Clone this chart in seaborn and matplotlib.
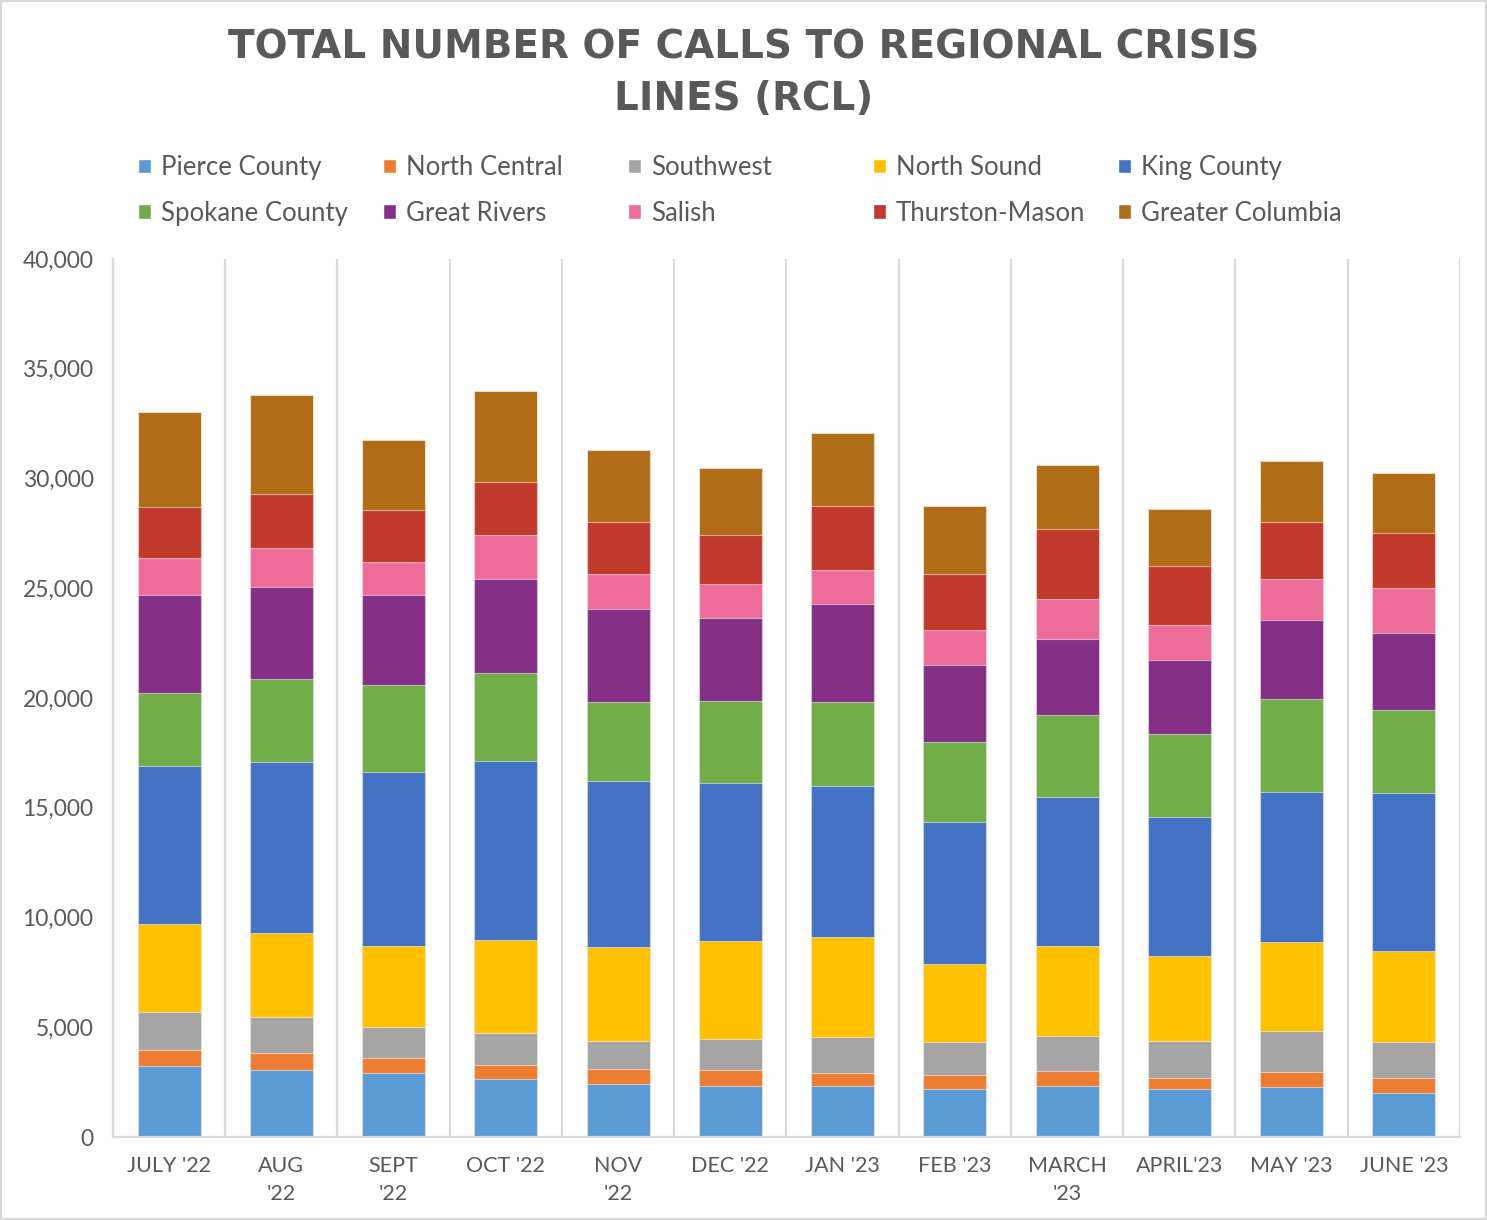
import pandas as pd
import numpy as np
import seaborn as sns
import matplotlib.pyplot as plt
from matplotlib.patches import Patch, Rectangle

# Monthly call counts per region
months = ["JULY '22", "AUG\n'22", "SEPT\n'22", "OCT '22", "NOV\n'22", "DEC '22",
          "JAN '23", "FEB '23", "MARCH\n'23", "APRIL'23", "MAY '23", "JUNE '23"]

pierce_county = [3250, 3070, 2900, 2660, 2430, 2340, 2340, 2190, 2340, 2170, 2280, 2020]
north_central = [700, 770, 690, 610, 670, 710, 590, 620, 670, 530, 700, 650]
southwest = [1730, 1640, 1440, 1490, 1260, 1430, 1610, 1530, 1580, 1660, 1850, 1670]
north_sound = [4040, 3800, 3690, 4210, 4310, 4450, 4560, 3530, 4100, 3870, 4070, 4120]
king_county = [7200, 7820, 7930, 8140, 7550, 7180, 6910, 6500, 6820, 6360, 6830, 7200]
spokane_county = [3310, 3750, 3960, 4030, 3580, 3740, 3800, 3630, 3730, 3770, 4220, 3790]
great_rivers = [4480, 4220, 4100, 4260, 4270, 3780, 4490, 3520, 3450, 3360, 3610, 3510]
salish = [1660, 1780, 1490, 2040, 1580, 1560, 1520, 1580, 1820, 1600, 1850, 2060]
thurston_mason = [2310, 2460, 2360, 2400, 2350, 2220, 2920, 2540, 3180, 2690, 2630, 2510]
greater_columbia = [4360, 4480, 3200, 4150, 3310, 3050, 3340, 3120, 2920, 2600, 2780, 2710]

regions = ["Pierce County", "North Central", "Southwest", "North Sound", "King County",
           "Spokane County", "Great Rivers", "Salish", "Thurston-Mason", "Greater Columbia"]
colors = ["#5B9BD5", "#ED7D31", "#A5A5A5", "#FFC000", "#4472C4",
          "#70AD47", "#843086", "#ED6C9A", "#C0392B", "#B06C17"]

df = pd.DataFrame({
    "month": months,
    "Pierce County": pierce_county,
    "North Central": north_central,
    "Southwest": southwest,
    "North Sound": north_sound,
    "King County": king_county,
    "Spokane County": spokane_county,
    "Great Rivers": great_rivers,
    "Salish": salish,
    "Thurston-Mason": thurston_mason,
    "Greater Columbia": greater_columbia,
})
cum = df[regions].cumsum(axis=1)
cum["month"] = df["month"]

text_color = "#595959"
grid_color = "#D9D9D9"

sns.set_style("white")
plt.rcParams["font.family"] = ["Lato", "DejaVu Sans"]

fig = plt.figure(figsize=(14.87, 12.20), dpi=100)
ax = fig.add_axes([0.076, 0.068, 0.9058, 0.7197])

# stacked bars: draw the running totals from the top layer down
for reg, col in reversed(list(zip(regions, colors))):
    sns.barplot(data=cum, x="month", y=reg, order=months, color=col, saturation=1,
                width=0.56, errorbar=None, edgecolor="#FFFFFF80", linewidth=0.8, ax=ax)

ax.set_xlim(-0.5, len(months) - 0.5)
ax.set_ylim(0, 40000)
ax.set_yticks(np.arange(0, 40001, 5000))
ax.set_yticklabels([f"{v:,}" for v in range(0, 40001, 5000)])
ax.set_xlabel("")
ax.set_ylabel("")

# vertical category separators
ax.set_xticks(np.arange(-0.5, len(months), 1), minor=True)
ax.grid(which="minor", axis="x", color=grid_color, linewidth=1.6)
ax.set_axisbelow(True)
ax.tick_params(axis="x", which="both", length=0, pad=14, labelsize=15.5, labelcolor=text_color)
ax.tick_params(axis="y", length=6, width=1.2, color=grid_color, pad=8,
               labelsize=16.5, labelcolor=text_color)
for t in ax.get_xticklabels():
    t.set_linespacing(1.45)

for side in ["top", "right"]:
    ax.spines[side].set_visible(False)
for side in ["left", "bottom"]:
    ax.spines[side].set_color(grid_color)
    ax.spines[side].set_linewidth(1.6)

fig.text(0.5, 0.977, "TOTAL NUMBER OF CALLS TO REGIONAL CRISIS\nLINES (RCL)",
         ha="center", va="top", fontsize=28, fontweight="bold", color=text_color,
         family="DejaVu Sans", linespacing=1.45)

# legend: 5 evenly spaced columns, 2 rows
patches = [Patch(facecolor=c, label=r) for r, c in zip(regions, colors)]
for i in range(5):
    fig.legend(handles=[patches[i], patches[i + 5]], loc="upper left",
               bbox_to_anchor=(138 / 1487 + i * 245 / 1487, 1 - 155 / 1220),
               frameon=False, fontsize=18.5, labelcolor=text_color,
               handlelength=0.5, handleheight=0.5, handletextpad=0.4,
               labelspacing=0.8, borderpad=0, borderaxespad=0)

fig.patches.append(Rectangle((0.001, 0.001), 0.998, 0.998, transform=fig.transFigure,
                             fill=False, edgecolor=grid_color, linewidth=1.5))

fig.savefig("out.png", dpi=100)
